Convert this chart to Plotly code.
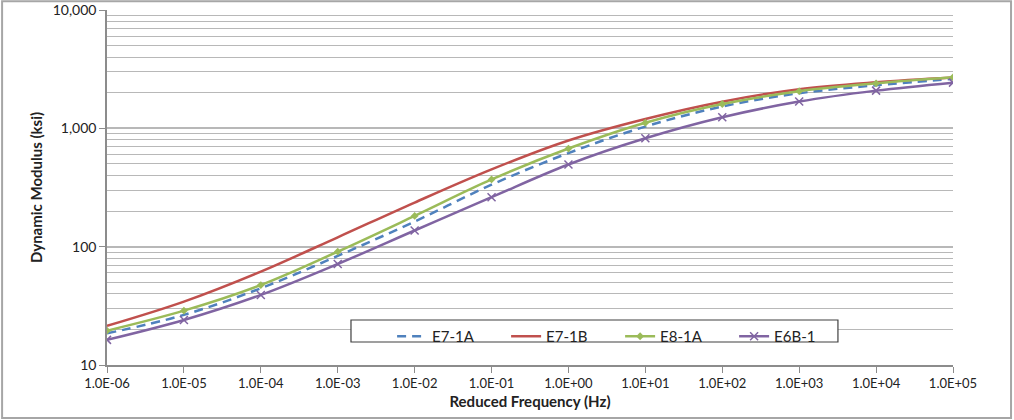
import plotly.graph_objects as go

# Reduced frequency (Hz), one point per decade
freq = [1e-6, 1e-5, 1e-4, 1e-3, 1e-2, 1e-1, 1e0, 1e1, 1e2, 1e3, 1e4, 1e5]
freq_labels = ["1.0E-06", "1.0E-05", "1.0E-04", "1.0E-03", "1.0E-02", "1.0E-01",
               "1.0E+00", "1.0E+01", "1.0E+02", "1.0E+03", "1.0E+04", "1.0E+05"]

# Dynamic modulus master curves (ksi)
e7_1a = [18.5, 26.5, 44.5, 83.5, 163, 334, 618, 1035, 1530, 1980, 2310, 2620]
e7_1b = [21.4, 34.3, 61.5, 120, 236, 450, 790, 1200, 1680, 2140, 2450, 2690]
e8_1a = [19.5, 28.8, 47.4, 90.8, 182, 370, 675, 1115, 1605, 2060, 2400, 2700]
e6b_1 = [16.3, 24.0, 39.1, 71.4, 137, 262, 495, 824, 1241, 1683, 2083, 2434]

y_vals = [10, 100, 1000, 10000]
y_labels = ["10", "100", "1,000", "10,000"]

BLUE = "#4F81BD"
RED = "#C0504D"
GREEN = "#9BBB59"
PURPLE = "#8064A2"
GRID = "#b8b8b8"
AXIS = "#8c8c8c"
FONT = "Lato, 'Open Sans', sans-serif"

fig = go.Figure()
fig.add_trace(go.Scatter(x=freq, y=e7_1a, name="E7-1A", mode="lines",
                         line=dict(color=BLUE, width=2.5, dash="9px,6px", shape="spline")))
fig.add_trace(go.Scatter(x=freq, y=e7_1b, name="E7-1B", mode="lines",
                         line=dict(color=RED, width=2.5, shape="spline")))
fig.add_trace(go.Scatter(x=freq, y=e8_1a, name="E8-1A", mode="lines+markers",
                         line=dict(color=GREEN, width=2.5, shape="spline"),
                         marker=dict(symbol="diamond", size=6, color=GREEN)))
fig.add_trace(go.Scatter(x=freq, y=e6b_1, name="E6B-1", mode="lines+markers",
                         line=dict(color=PURPLE, width=2.5, shape="spline"),
                         marker=dict(symbol="x-thin", size=8,
                                     line=dict(color=PURPLE, width=1.5))))

fig.update_layout(
    width=1014, height=420,
    margin=dict(l=107, r=61, t=10, b=55, autoexpand=False),
    paper_bgcolor="white", plot_bgcolor="white",
    font=dict(family=FONT, size=14, color="#222222"),
    showlegend=True,
    legend=dict(orientation="h", x=0.337, y=0.1268, xanchor="left", yanchor="top",
                bgcolor="rgba(0,0,0,0)", borderwidth=0,
                entrywidth=69, font=dict(size=15, family=FONT),
                traceorder="normal", itemwidth=30),
    xaxis=dict(type="log", range=[-6, 5], tickvals=freq, ticktext=freq_labels,
               showgrid=False, zeroline=False, automargin=False,
               showline=True, linecolor=AXIS, linewidth=1.5,
               ticks="outside", ticklen=6, tickcolor=AXIS,
               tickfont=dict(size=13, family=FONT),
               title=dict(text="<b>Reduced Frequency (Hz)</b>", standoff=6,
                          font=dict(size=15, family=FONT))),
    yaxis=dict(type="log", range=[1, 4], tickvals=y_vals, ticktext=y_labels,
               showgrid=True, gridcolor=GRID, gridwidth=1.5, zeroline=False,
               automargin=False,
               showline=True, linecolor=AXIS, linewidth=1.5,
               ticks="outside", ticklen=6, tickcolor=AXIS,
               tickfont=dict(size=14, family=FONT),
               minor=dict(showgrid=True, gridcolor=GRID, gridwidth=1.2, dtick="D1",
                          ticks=""),
               title=dict(text="<b>Dynamic Modulus (ksi)</b>", standoff=6,
                          font=dict(size=15, family=FONT))),
)

# chart-area frame
fig.add_shape(type="rect", xref="paper", yref="paper",
              x0=-0.124, x1=1.0686, y0=-0.149, y1=1.025,
              line=dict(color="#a6a6a6", width=2), fillcolor="rgba(0,0,0,0)", layer="below")

# legend box
fig.add_shape(type="rect", xref="paper", yref="paper",
              x0=0.2884, x1=0.864, y0=0.0648, y1=0.1268,
              line=dict(color="#404040", width=1.2), fillcolor="white", layer="above")

fig.write_html("out.html")
